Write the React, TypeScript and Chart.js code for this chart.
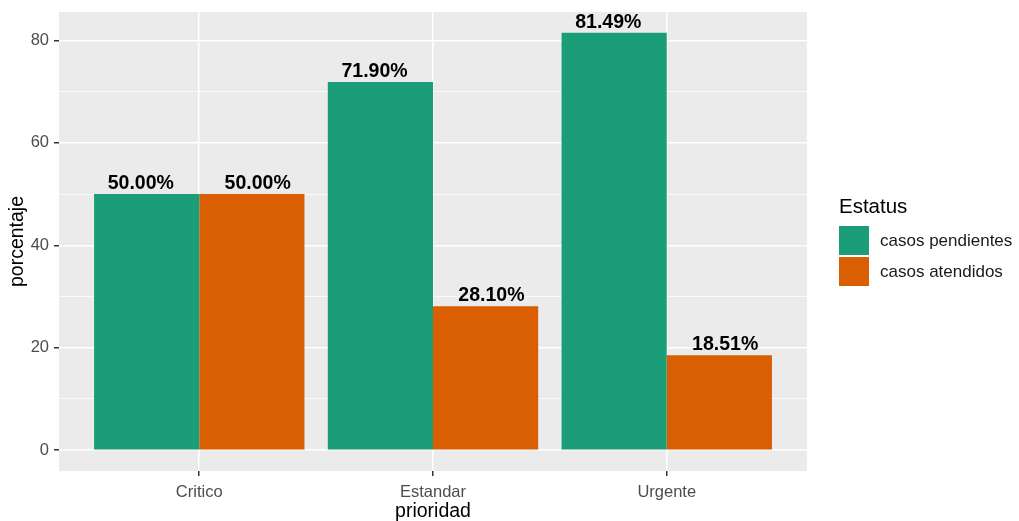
import React, { useEffect, useRef } from "react";
import { Chart, registerables } from "chart.js";

Chart.register(...registerables);

const categories = ["Critico", "Estandar", "Urgente"];
const pendientes = [50.0, 71.9, 81.49];
const atendidos = [50.0, 28.1, 18.51];
const seriesNames = ["casos pendientes", "casos atendidos"];
const seriesColors = ["#1B9E77", "#D95F02"];
const yTicks = [0, 10, 20, 30, 40, 50, 60, 70, 80];
const legendTitle = "Estatus";
const xTitle = "prioridad";
const yTitle = "porcentaje";
// text labels are dodged with width 1 (bars with width 0.9)
const labelDodge = [-0.25, 0.25];

const FONT = "'Liberation Sans', Arial, sans-serif";

const panelBg = {
  id: "panelBg",
  beforeDraw(chart: any) {
    const { ctx, chartArea } = chart;
    ctx.save();
    ctx.fillStyle = "#EBEBEB";
    ctx.fillRect(chartArea.left, chartArea.top, chartArea.right - chartArea.left, chartArea.bottom - chartArea.top);
    ctx.restore();
  },
};

const valueLabels = {
  id: "valueLabels",
  afterDatasetsDraw(chart: any) {
    const { ctx } = chart;
    const xs = chart.scales.x;
    ctx.save();
    ctx.font = `bold 19.5px ${FONT}`;
    ctx.fillStyle = "#000000";
    ctx.textAlign = "center";
    ctx.textBaseline = "alphabetic";
    chart.data.datasets.forEach((ds: any, di: number) => {
      const meta = chart.getDatasetMeta(di);
      meta.data.forEach((el: any, i: number) => {
        const p = ds.data[i];
        const x = xs.getPixelForValue(p.x + labelDodge[di]);
        ctx.fillText((p.y as number).toFixed(2) + "%", x, el.y - 5);
      });
    });
    ctx.restore();
  },
};

const customLegend = {
  id: "customLegend",
  afterDraw(chart: any) {
    const { ctx } = chart;
    ctx.save();
    ctx.fillStyle = "#000000";
    ctx.textAlign = "left";
    ctx.textBaseline = "middle";
    ctx.font = `20.5px ${FONT}`;
    ctx.fillText(legendTitle, 839, 207);
    ctx.font = `17px ${FONT}`;
    seriesNames.forEach((name, i) => {
      const y0 = 226 + i * 31;
      ctx.fillStyle = seriesColors[i];
      ctx.fillRect(839, y0, 30, 29);
      ctx.fillStyle = "#1A1A1A";
      ctx.fillText(name, 880, y0 + 15);
    });
    ctx.restore();
  },
};

export default function App() {
  const ref = useRef<HTMLCanvasElement>(null);
  useEffect(() => {
    if (!ref.current) return;
    const chart = new Chart(ref.current, {
      type: "bar",
      data: {
        datasets: [
          {
            label: seriesNames[0],
            data: categories.map((_, i) => ({ x: i + 1, y: pendientes[i] })),
            backgroundColor: seriesColors[0],
            borderWidth: 0,
          },
          {
            label: seriesNames[1],
            data: categories.map((_, i) => ({ x: i + 1, y: atendidos[i] })),
            backgroundColor: seriesColors[1],
            borderWidth: 0,
          },
        ],
      },
      options: {
        animation: false,
        responsive: false,
        maintainAspectRatio: false,
        events: [],
        layout: { padding: { top: 12, right: 212, left: 0, bottom: 0 } },
        datasets: { bar: { categoryPercentage: 0.9, barPercentage: 1, grouped: true } },
        plugins: { legend: { display: false }, tooltip: { enabled: false }, title: { display: false } },
        scales: {
          x: {
            type: "linear",
            min: 0.4,
            max: 3.6,
            offset: false,
            afterBuildTicks: (scale: any) => {
              scale.ticks = categories.map((_, i) => ({ value: i + 1 }));
            },
            afterFit: (scale: any) => {
              scale.height = 50;
              scale.paddingLeft = 0;
              scale.paddingRight = 0;
            },
            border: { display: false },
            grid: { offset: false, color: "#FFFFFF", lineWidth: 1.5, tickColor: "#333333", tickLength: 5, drawTicks: true },
            ticks: {
              autoSkip: false,
              maxRotation: 0,
              padding: 7,
              color: "#4D4D4D",
              font: { family: FONT, size: 16.5 },
              callback: (v: any) => categories[Math.round(Number(v)) - 1] ?? "",
            },
            title: {
              display: true,
              text: xTitle,
              color: "#000000",
              font: { family: FONT, size: 19.5 },
              padding: { top: 0, bottom: -2 },
            },
          },
          y: {
            type: "linear",
            min: -4.0745,
            max: 85.5645,
            afterBuildTicks: (scale: any) => {
              scale.ticks = yTicks.map((v) => ({ value: v }));
            },
            afterFit: (scale: any) => {
              scale.width = 59;
              scale.paddingTop = 0;
              scale.paddingBottom = 0;
            },
            border: { display: false },
            grid: {
              color: "#FFFFFF",
              lineWidth: (c: any) => (c.tick && c.tick.value % 20 === 0 ? 1.5 : 0.75),
              tickColor: (c: any) => (c.tick && c.tick.value % 20 === 0 ? "#333333" : "rgba(0,0,0,0)"),
              tickLength: 5,
              drawTicks: true,
            },
            ticks: {
              autoSkip: false,
              padding: 5,
              color: "#4D4D4D",
              font: { family: FONT, size: 16.5 },
              callback: (v: any) => (Number(v) % 20 === 0 ? String(v) : ""),
            },
            title: {
              display: true,
              text: yTitle,
              color: "#000000",
              font: { family: FONT, size: 19.5 },
              padding: { top: 6, bottom: 0 },
            },
          },
        },
      },
      plugins: [panelBg, valueLabels, customLegend],
    } as any);
    return () => chart.destroy();
  }, []);

  return (
    <div style={{ position: "fixed", left: 0, top: 0, width: 1019, height: 521, background: "#FFFFFF" }}>
      <canvas ref={ref} width={1019} height={521} style={{ display: "block", width: 1019, height: 521 }} />
    </div>
  );
}
